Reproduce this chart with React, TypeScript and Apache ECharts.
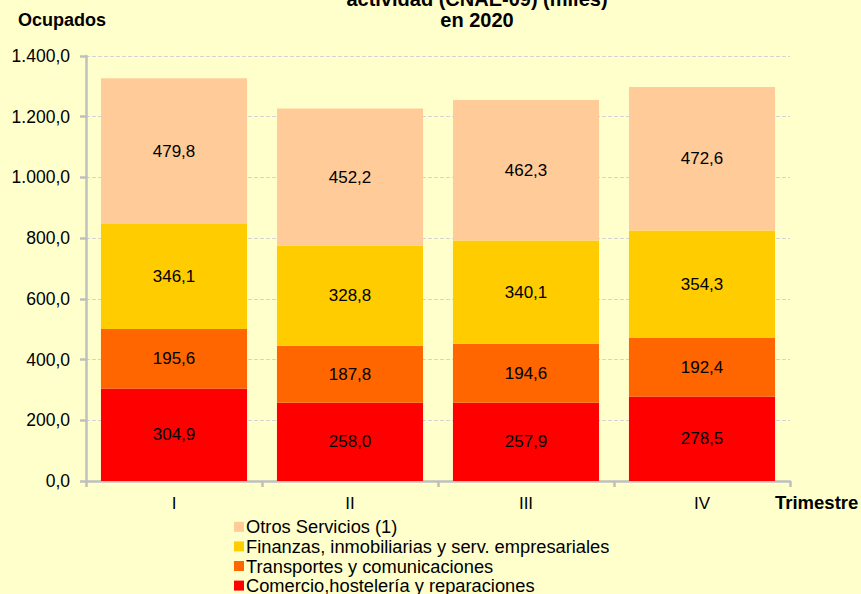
import React, { useEffect, useRef } from "react";
import * as echarts from "echarts";

const categories = ["I", "II", "III", "IV"];
const comercio = [304.9, 258.0, 257.9, 278.5];
const transportes = [195.6, 187.8, 194.6, 192.4];
const finanzas = [346.1, 328.8, 340.1, 354.3];
const otros = [479.8, 452.2, 462.3, 472.6];

const seriesNames = [
  "Comercio,hostelería y reparaciones",
  "Transportes y comunicaciones",
  "Finanzas, inmobiliarias y serv. empresariales",
  "Otros Servicios (1)",
];
const seriesColors = ["#FF0000", "#FF6600", "#FFCC00", "#FFCC99"];
const seriesData = [comercio, transportes, finanzas, otros];

const FONT = "'Liberation Sans', Arial, sans-serif";

function fmt(v: number, dec: number) {
  const s = v.toFixed(dec);
  const [int, frac] = s.split(".");
  const withDots = int.replace(/\B(?=(\d{3})+(?!\d))/g, ".");
  return frac !== undefined ? withDots + "," + frac : withDots;
}

export default function App() {
  const ref = useRef<HTMLDivElement>(null);
  useEffect(() => {
    if (!ref.current) return;
    const chart = echarts.init(ref.current, null, { renderer: "svg" });
    chart.setOption({
      animation: false,
      backgroundColor: "#FFFFCC",
      textStyle: { fontFamily: FONT },
      grid: { left: 86, right: 71, top: 56, bottom: 113, containLabel: false },
      graphic: [
        {
          type: "text",
          style: {
            text: "actividad (CNAE-09) (miles)",
            x: 477,
            y: -1,
            fill: "#000",
            font: "bold 20px " + FONT,
            textAlign: "center",
            textVerticalAlign: "middle",
          },
        },
        {
          type: "text",
          style: {
            text: "en 2020",
            x: 477,
            y: 20,
            fill: "#000",
            font: "bold 20px " + FONT,
            textAlign: "center",
            textVerticalAlign: "middle",
          },
        },
        {
          type: "text",
          style: {
            text: "Ocupados",
            x: 18,
            y: 20,
            fill: "#000",
            font: "bold 18px " + FONT,
            textAlign: "left",
            textVerticalAlign: "middle",
          },
        },
        {
          type: "text",
          style: {
            text: "Trimestre",
            x: 775,
            y: 502,
            fill: "#000",
            font: "bold 18.5px " + FONT,
            textAlign: "left",
            textVerticalAlign: "middle",
          },
        },
      ],
      legend: {
        orient: "vertical",
        left: 234,
        top: 517,
        height: 120,
        padding: 0,
        itemGap: 0,
        itemWidth: 10,
        itemHeight: 10,
        icon: "rect",
        data: [seriesNames[3], seriesNames[2], seriesNames[1], seriesNames[0]],
        textStyle: {
          fontFamily: FONT,
          fontSize: 18.3,
          color: "#000",
          padding: [0, 0, 0, -3],
          lineHeight: 19.6,
        },
      },
      xAxis: {
        type: "category",
        data: categories,
        axisLine: { lineStyle: { color: "#BFBFBF", width: 2.5 } },
        axisTick: { show: true, length: 6, lineStyle: { color: "#BFBFBF", width: 2.5 } },
        axisLabel: { color: "#000", fontSize: 17, fontFamily: FONT, margin: 14 },
      },
      yAxis: {
        type: "value",
        min: 0,
        max: 1400,
        interval: 200,
        axisLine: { show: true, lineStyle: { color: "#BFBFBF", width: 2.5 } },
        axisTick: { show: true, length: 6, lineStyle: { color: "#BFBFBF", width: 2.5 } },
        axisLabel: {
          color: "#000",
          fontSize: 17.5,
          fontFamily: FONT,
          margin: 16,
          formatter: (v: number) => fmt(v, 1),
        },
        splitLine: { show: true, lineStyle: { color: "#D4D4D4", type: "dashed", width: 1 } },
      },
      series: seriesNames.map((name, i) => ({
        name,
        type: "bar",
        stack: "total",
        data: seriesData[i],
        barCategoryGap: "17%",
        itemStyle: { color: seriesColors[i] },
        label: {
          show: true,
          position: "inside",
          color: "#000",
          fontSize: 17,
          fontFamily: FONT,
          formatter: (p: any) => fmt(p.value, 1),
        },
      })),
    });
    return () => chart.dispose();
  }, []);
  return <div ref={ref} style={{ width: 861, height: 594, position: "absolute", left: 0, top: 0 }} />;
}
